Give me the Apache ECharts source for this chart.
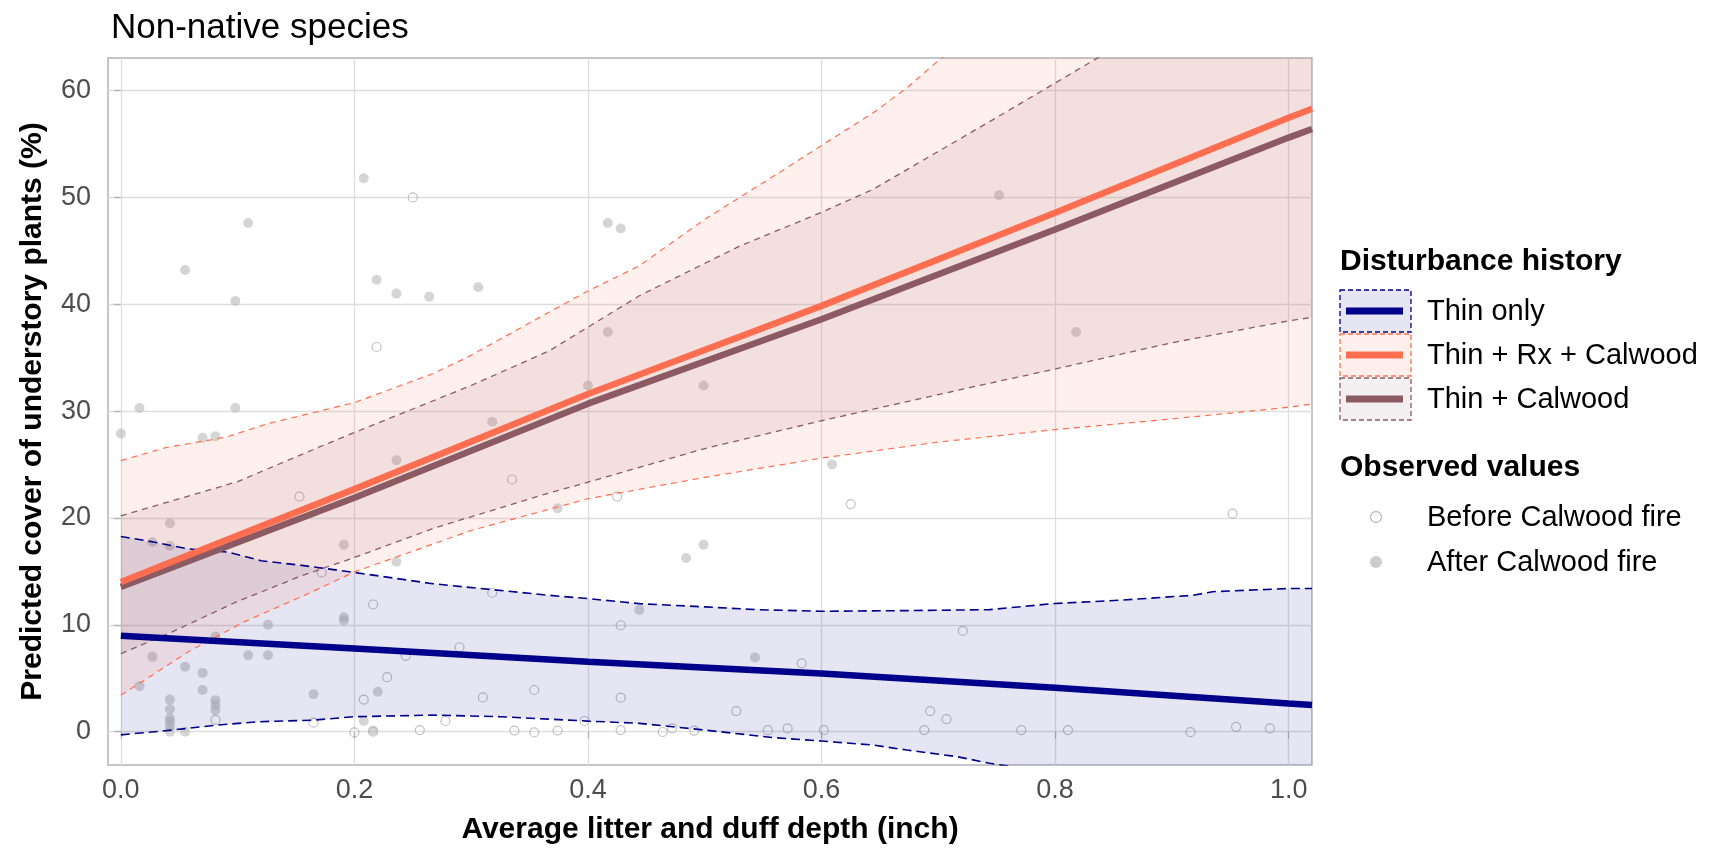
<!DOCTYPE html>
<html>
<head>
<meta charset="utf-8">
<title>Non-native species</title>
<script src="https://cdn.jsdelivr.net/npm/echarts@6/dist/echarts.min.js"></script>
<style>
html,body{margin:0;padding:0;background:#fff;}
#main{width:1715px;height:850px;}
</style>
</head>
<body>
<div id="main"></div>
<script>
// fitted lines [depth, cover]
var thinFit=[[0,8.97],[0.2,7.78],[0.4,6.54],[0.6,5.45],[0.8,4.11],[1.0,2.64],[1.02,2.5]];
var rxFit=[[0,14.0],[0.2,22.7],[0.4,31.6],[0.6,39.85],[0.8,48.57],[1.0,57.45],[1.02,58.3]];
var calFit=[[0,13.55],[0.2,21.9],[0.4,30.7],[0.6,38.6],[0.8,47.0],[1.0,55.6],[1.02,56.4]];

// confidence bands
var thinUpper=[[0,18.27],[0.028,17.75],[0.058,17.1],[0.092,16.8],[0.12,16.0],[0.155,15.56],[0.2,14.9],
    [0.267,13.85],[0.367,12.76],[0.4,12.45],[0.444,11.98],[0.5,11.68],[0.544,11.42],[0.6,11.27],
    [0.673,11.33],[0.744,11.42],[0.8,12.0],[0.855,12.3],[0.918,12.76],[0.935,13.1],[1.0,13.4],[1.02,13.4]];
var thinLower=[[0,-0.3],[0.044,0.15],[0.081,0.6],[0.118,0.93],[0.165,1.08],[0.2,1.4],[0.267,1.55],
    [0.325,1.4],[0.4,0.99],[0.444,0.78],[0.5,0.15],[0.559,-0.56],[0.6,-0.88],[0.644,-1.25],
    [0.673,-1.72],[0.716,-2.34],[0.744,-2.96],[0.8,-3.9],[1.02,-7]];
var rxUpper=[[0,25.37],[0.039,26.6],[0.09,27.56],[0.125,28.8],[0.2,30.8],[0.267,33.5],[0.296,35.0],
    [0.359,38.8],[0.4,41.25],[0.444,43.6],[0.5,47.95],[0.559,52.0],[0.6,54.86],[0.644,57.9],
    [0.673,60.25],[0.701,62.9],[0.8,70],[1.02,85]];
var rxLower=[[0,3.4],[0.058,7.5],[0.106,10.3],[0.158,12.8],[0.2,14.95],[0.3,18.83],[0.4,21.8],
    [0.5,23.8],[0.6,25.6],[0.7,27.1],[0.8,28.27],[0.9,29.27],[1.0,30.36],[1.02,30.67]];
var calUpper=[[0,20.2],[0.1,23.4],[0.169,26.6],[0.2,28.0],[0.3,32.4],[0.367,35.65],[0.444,40.8],
    [0.53,45.45],[0.6,48.6],[0.644,50.75],[0.744,57.1],[0.8,60.7],[0.834,62.9],[0.9,67],[1.02,74]];
var calLower=[[0,7.3],[0.044,9.34],[0.098,12.1],[0.155,14.6],[0.2,16.3],[0.267,19.0],[0.359,22.1],
    [0.4,23.35],[0.5,26.5],[0.6,29.1],[0.735,32.4],[0.8,33.94],[0.9,36.4],[1.0,38.45],[1.02,38.77]];

// observed values
var beforeFire=[[0.25,50.0],[0.219,36.0],[0.153,22.0],[0.335,23.6],[0.172,14.9],[0.216,11.9],[0.318,13.0],
    [0.29,7.9],[0.244,7.1],[0.228,5.1],[0.208,3.0],[0.31,3.2],[0.354,3.9],[0.165,0.84],[0.278,1.0],
    [0.2,-0.07],[0.216,0.0],[0.256,0.15],[0.337,0.1],[0.354,-0.07],[0.374,0.1],[0.081,1.1],
    [0.425,22.0],[0.625,21.3],[0.428,9.96],[0.583,6.4],[0.721,9.43],[0.428,3.18],[0.527,1.93],
    [0.693,1.93],[0.707,1.18],[0.397,1.0],[0.428,0.15],[0.464,-0.03],[0.472,0.3],[0.491,0.1],
    [0.554,0.15],[0.571,0.3],[0.602,0.15],[0.688,0.15],[0.952,20.4],[0.771,0.15],[0.811,0.15],
    [0.916,-0.05],[0.955,0.45],[0.984,0.3]];
var afterFire=[[0.208,51.8],[0.109,47.6],[0.055,43.2],[0.098,40.3],[0.219,42.3],[0.236,41.0],[0.264,40.7],
    [0.306,41.6],[0.016,30.3],[0.098,30.3],[0.0,27.9],[0.07,27.5],[0.081,27.65],[0.318,29.0],
    [0.236,25.4],[0.042,19.5],[0.027,17.75],[0.042,17.4],[0.191,17.5],[0.236,15.9],[0.191,10.7],
    [0.191,10.4],[0.126,10.0],[0.081,8.9],[0.027,7.0],[0.109,7.15],[0.126,7.15],[0.055,6.07],
    [0.07,5.5],[0.016,4.26],[0.07,3.9],[0.22,3.74],[0.165,3.5],[0.042,3.0],[0.042,2.1],[0.042,1.25],
    [0.042,0.93],[0.042,0.47],[0.042,0.0],[0.055,0.0],[0.081,2.95],[0.081,2.5],[0.081,2.0],
    [0.208,1.0],[0.216,0.1],[0.417,47.6],[0.428,47.1],[0.417,37.4],[0.4,32.4],[0.499,32.4],
    [0.374,20.9],[0.609,25.0],[0.499,17.5],[0.484,16.25],[0.444,11.4],[0.543,6.94],
    [0.752,50.2],[0.818,37.4]];

var xTicks=[0,0.2,0.4,0.6,0.8,1.0];
var yTicks=[0,10,20,30,40,50,60];

var groupNames=['Thin only','Thin + Rx + Calwood','Thin + Calwood'];
var groupColors=['#00008B','#FF6E50','#8B5A63'];
var groupFills=['rgba(0,0,139,0.1)','rgba(255,110,80,0.1)','rgba(139,90,99,0.1)'];
var pointNames=['Before Calwood fire','After Calwood fire'];

var FONT='"Liberation Sans", Arial, sans-serif';

function bandSeries(upper,lower,fill)
{
    return {
        type:'custom',
        coordinateSystem:'cartesian2d',
        data:[[0,0]],
        z:2,
        silent:true,
        clip:true,
        renderItem:function(params,api)
        {
            var pts=[];
            for(var i=0;i<upper.length;i++) pts.push(api.coord(upper[i]));
            for(var j=lower.length-1;j>=0;j--) pts.push(api.coord(lower[j]));
            var cs=params.coordSys;
            return {
                type:'polygon',
                shape:{points:pts},
                style:{fill:fill},
                clipPath:{type:'rect',shape:{x:cs.x,y:cs.y,width:cs.width,height:cs.height}}
            };
        }
    };
}

function lineSeries(data,color,width,dash,z)
{
    return {
        type:'line',data:data,symbol:'none',silent:true,z:z,clip:true,
        lineStyle:{color:color,width:width,type:dash}
    };
}

// legend drawn by hand, ggplot style keys
var graphics=[];
graphics.push({type:'text',x:1340,y:262,style:{text:'Disturbance history',fontFamily:FONT,fontSize:30,fontWeight:'bold',fill:'#000',verticalAlign:'middle'}});
var rowTop=[290,334,378];
for(var i=0;i<3;i++)
{
    graphics.push({type:'rect',shape:{x:1340,y:rowTop[i],width:71,height:42},
        style:{fill:groupFills[i],stroke:groupColors[i],lineWidth:1.3,lineDash:[5,3]}});
    graphics.push({type:'line',shape:{x1:1346,y1:rowTop[i]+21,x2:1403,y2:rowTop[i]+21},
        style:{stroke:groupColors[i],lineWidth:7}});
    graphics.push({type:'text',x:1427,y:rowTop[i]+22,style:{text:groupNames[i],fontFamily:FONT,fontSize:29,fill:'#000',verticalAlign:'middle'}});
}
graphics.push({type:'text',x:1340,y:468,style:{text:'Observed values',fontFamily:FONT,fontSize:30,fontWeight:'bold',fill:'#000',verticalAlign:'middle'}});
graphics.push({type:'circle',shape:{cx:1376,cy:517,r:5.5},style:{fill:'none',stroke:'#BBBBBB',lineWidth:1.3}});
graphics.push({type:'circle',shape:{cx:1376,cy:562,r:6},style:{fill:'#CCCCCC'}});
graphics.push({type:'text',x:1427,y:518,style:{text:pointNames[0],fontFamily:FONT,fontSize:29,fill:'#000',verticalAlign:'middle'}});
graphics.push({type:'text',x:1427,y:563,style:{text:pointNames[1],fontFamily:FONT,fontSize:29,fill:'#000',verticalAlign:'middle'}});

var myChart=echarts.init(document.getElementById('main'));
var option={
    backgroundColor:'#fff',
    animation:false,
    title:{
        text:'Non-native species',left:106,top:6,
        textStyle:{fontFamily:FONT,fontSize:35,fontWeight:'normal',color:'#000'}
    },
    grid:{left:108,top:58,width:1204,height:709,show:true,borderColor:'#B3B3B3',borderWidth:1.5,containLabel:false},
    xAxis:{
        type:'value',min:-0.011,max:1.02,splitNumber:5,
        name:'Average litter and duff depth (inch)',nameLocation:'middle',nameGap:50,
        nameTextStyle:{fontFamily:FONT,fontSize:30,fontWeight:'bold',color:'#000'},
        axisLine:{show:false},
        axisTick:{show:true,length:7,lineStyle:{color:'#B3B3B3',width:1.3},customValues:xTicks},
        axisLabel:{fontFamily:FONT,fontSize:27,color:'#4D4D4D',margin:12,customValues:xTicks,
            formatter:function(v){return v.toFixed(1);}},
        splitLine:{show:true,lineStyle:{color:'#DEDEDE',width:1.3}}
    },
    yAxis:{
        type:'value',min:-3.12,max:63.05,splitNumber:6,
        name:'Predicted cover of understory plants (%)',nameLocation:'middle',nameGap:60,nameRotate:90,
        nameTextStyle:{fontFamily:FONT,fontSize:30,fontWeight:'bold',color:'#000'},
        axisLine:{show:false},
        axisTick:{show:true,length:7,lineStyle:{color:'#B3B3B3',width:1.3},customValues:yTicks},
        axisLabel:{fontFamily:FONT,fontSize:27,color:'#4D4D4D',margin:17,customValues:yTicks},
        splitLine:{show:true,lineStyle:{color:'#DEDEDE',width:1.3}}
    },
    graphic:graphics,
    series:[
        {type:'scatter',data:beforeFire,symbol:'circle',symbolSize:9,z:1,silent:true,
            itemStyle:{color:'rgba(0,0,0,0)',borderColor:'rgba(160,160,160,0.8)',borderWidth:1.2}},
        {type:'scatter',data:afterFire,symbol:'circle',symbolSize:10,z:1,silent:true,
            itemStyle:{color:'rgba(185,185,185,0.75)'}},
        bandSeries(thinUpper,thinLower,groupFills[0]),
        bandSeries(rxUpper,rxLower,groupFills[1]),
        bandSeries(calUpper,calLower,groupFills[2]),
        lineSeries(thinUpper,groupColors[0],1.6,[9,5],3),
        lineSeries(thinLower,groupColors[0],1.6,[9,5],3),
        lineSeries(rxUpper,groupColors[1],1.2,[6,5],3),
        lineSeries(rxLower,groupColors[1],1.2,[6,5],3),
        lineSeries(calUpper,groupColors[2],1.3,[6,5],3),
        lineSeries(calLower,groupColors[2],1.3,[6,5],3),
        lineSeries(thinFit,groupColors[0],6.5,'solid',4),
        lineSeries(calFit,groupColors[2],6.5,'solid',4),
        lineSeries(rxFit,groupColors[1],6.5,'solid',4)
    ]
};
myChart.setOption(option);
</script>
</body>
</html>
